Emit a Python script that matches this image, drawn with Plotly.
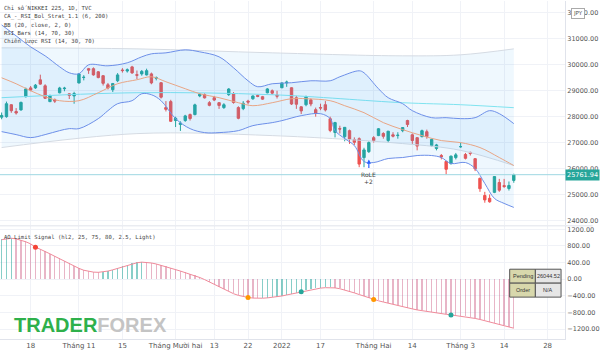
import plotly.graph_objects as go

# ---------------- data ----------------
dates = [
    "2021-10-08", "2021-10-11", "2021-10-12", "2021-10-13", "2021-10-14", "2021-10-15",
    "2021-10-18", "2021-10-19", "2021-10-20", "2021-10-21", "2021-10-22", "2021-10-25",
    "2021-10-26", "2021-10-27", "2021-10-28", "2021-10-29",
    "2021-11-01", "2021-11-02", "2021-11-04", "2021-11-05", "2021-11-08", "2021-11-09",
    "2021-11-10", "2021-11-11", "2021-11-12", "2021-11-15", "2021-11-16", "2021-11-17",
    "2021-11-18", "2021-11-19", "2021-11-22", "2021-11-24", "2021-11-25", "2021-11-26",
    "2021-11-29", "2021-11-30",
    "2021-12-01", "2021-12-02", "2021-12-03", "2021-12-06", "2021-12-07", "2021-12-08",
    "2021-12-09", "2021-12-10", "2021-12-13", "2021-12-14", "2021-12-15", "2021-12-16",
    "2021-12-17", "2021-12-20", "2021-12-21", "2021-12-22", "2021-12-23", "2021-12-24",
    "2021-12-27", "2021-12-28", "2021-12-29", "2021-12-30",
    "2022-01-04", "2022-01-05", "2022-01-06", "2022-01-07", "2022-01-11", "2022-01-12",
    "2022-01-13", "2022-01-14", "2022-01-17", "2022-01-18", "2022-01-19", "2022-01-20",
    "2022-01-21", "2022-01-24", "2022-01-25", "2022-01-26", "2022-01-27", "2022-01-28",
    "2022-01-31",
    "2022-02-01", "2022-02-02", "2022-02-03", "2022-02-04", "2022-02-07", "2022-02-08",
    "2022-02-09", "2022-02-10", "2022-02-14", "2022-02-15", "2022-02-16", "2022-02-17",
    "2022-02-18", "2022-02-21", "2022-02-22", "2022-02-24", "2022-02-25", "2022-02-28",
    "2022-03-01", "2022-03-02", "2022-03-03", "2022-03-04", "2022-03-07", "2022-03-08",
    "2022-03-09", "2022-03-10", "2022-03-11", "2022-03-14", "2022-03-15", "2022-03-16",
]
future_dates = ["2022-03-17", "2022-03-18", "2022-03-22", "2022-03-23", "2022-03-24",
                "2022-03-25", "2022-03-28"]

opens = [27980, 28000, 28460, 28200, 28260, 28770, 29110, 29110, 29420, 29190, 28580, 28650,
         28920, 29080, 28880, 28800,
         29300, 29510, 29850, 29850, 29730, 29580, 29230, 29040, 29385, 29800, 29760, 29920,
         29620, 29650, 29610, 29650, 29480, 29310, 28350, 28580,
         27850, 27700, 27850, 28080, 28080, 28800, 28850, 28540, 28730, 28540, 28350, 28850,
         28880, 28350, 28310, 28600, 28690, 28820, 28770, 28920, 29000, 28830,
         29115, 29300, 29115, 28730, 28380, 28460, 28650, 28270, 28350, 28460, 27920, 27390,
         27540, 27230, 27460, 27115, 27150, 26420, 26650,
         27190, 27270, 27350, 27080, 27300, 27270, 27460, 27850, 27300, 27190, 27230, 27420,
         26880, 26770, 26500, 26270, 26190, 26420,
         26840, 26540, 26620, 26380, 25620, 24960, 24850, 25080, 25460, 25340, 25230, 25540]
highs = [28160, 28580, 28480, 28330, 28580, 29120, 29180, 29260, 29620, 29250, 28850, 28700,
         29150, 29150, 28900, 28960,
         29680, 29600, 29880, 29900, 29760, 29600, 29300, 29300, 29680, 29870, 29860, 29960,
         29780, 29800, 29850, 29700, 29550, 29330, 28600, 28650,
         28000, 27820, 28070, 28120, 28500, 28900, 28900, 28600, 28800, 28560, 28520, 29100,
         28950, 28400, 28600, 28650, 28820, 28850, 28800, 29100, 29050, 29000,
         29320, 29390, 29130, 28800, 28400, 28810, 28700, 28350, 28500, 28600, 28000, 27800,
         27650, 27600, 27500, 27200, 27200, 26800, 27050,
         27250, 27560, 27400, 27450, 27400, 27400, 27600, 27880, 27350, 27200, 27500, 27500,
         27150, 26950, 26560, 26300, 26500, 26600,
         27000, 26600, 26650, 26400, 25650, 25100, 25000, 25700, 25600, 25600, 25500, 25800]
lows = [27900, 27960, 28150, 28080, 28230, 28740, 28980, 29070, 29230, 28680, 28560, 28530,
        28900, 28980, 28680, 28500,
        29280, 29400, 29650, 29580, 29480, 29200, 29050, 28950, 29330, 29700, 29700, 29650,
        29450, 29580, 29590, 29250, 29400, 28700, 28200, 27800,
        27600, 27450, 27800, 27850, 28050, 28750, 28700, 28400, 28600, 28300, 28300, 28800,
        28500, 27900, 28250, 28480, 28650, 28750, 28650, 28900, 28850, 28700,
        29100, 29150, 28450, 28300, 28100, 28400, 28400, 28000, 28250, 28200, 27400, 27200,
        27350, 27050, 26950, 26900, 26050, 26050, 26600,
        27000, 27250, 27150, 27000, 27200, 27150, 27400, 27600, 26950, 26700, 27200, 27150,
        26850, 26700, 26350, 25770, 26150, 26350,
        26800, 26350, 26500, 25900, 25100, 24680, 24680, 25050, 25100, 25250, 25150, 25450]
closes = [28048, 28498, 28230, 28140, 28550, 29068, 29025, 29215, 29255, 28708, 28804, 28600,
          29106, 29098, 28820, 28892,
          29647, 29520, 29794, 29611, 29507, 29285, 29106, 29277, 29610, 29777, 29808, 29688,
          29598, 29745, 29774, 29302, 29499, 28751, 28283, 27821,
          27935, 27753, 28029, 27927, 28455, 28860, 28725, 28437, 28640, 28432, 28459, 29066,
          28545, 27937, 28517, 28562, 28798, 28782, 28676, 29069, 28906, 28791,
          29301, 29332, 28487, 28478, 28222, 28765, 28489, 28124, 28333, 28257, 27467, 27772,
          27522, 27588, 27131, 27011, 26170, 26717, 27001,
          27078, 27533, 27241, 27439, 27248, 27284, 27579, 27696, 27079, 26865, 27460, 27232,
          27122, 26910, 26449, 25970, 26476, 26526,
          26844, 26393, 26577, 25985, 25221, 24790, 24717, 25690, 25163, 25307, 25346, 25762]
last_price = 25761.94

# Bollinger Bands (20, 2): (bar position, price)
bb_upper_pos = [-6, -3, 0, 3, 6, 8, 10, 12, 16, 20, 23, 25, 28, 32, 35, 39, 42, 45, 47, 50, 54,
                58, 62, 64, 68, 69, 72, 74, 77, 79, 83, 86, 89, 92, 95, 97, 100]
bb_upper = [31538, 31115, 30692, 30346, 29923, 29692, 29654, 30000, 29961, 30077, 30308, 30423,
            30461, 30577, 30500, 30308, 29884, 29384, 29154, 29269, 29308, 29384, 29384, 29538,
            29769, 29692, 29077, 28731, 28500, 28231, 27961, 27961, 27923, 27961, 28231, 28115,
            27731]
bb_lower_pos = [-6, -3, 0, 3, 6, 8, 10, 14, 16, 18, 21, 23, 25, 27, 30, 33, 36, 39, 43, 46, 50,
                52, 56, 60, 62, 63, 65, 67, 69, 71, 74, 77, 80, 83, 85, 87, 90, 92, 94, 96, 98,
                100]
bb_lower = [27423, 27308, 27192, 27308, 27461, 27538, 27538, 27923, 28231, 28500, 28615, 28884,
            28846, 28615, 27923, 27538, 27385, 27385, 27461, 27654, 27769, 27846, 28038, 28115,
            27923, 27461, 27154, 26885, 26269, 26231, 26385, 26423, 26500, 26500, 26423, 26192,
            26231, 26000, 25423, 24846, 24654, 24500]
bb_basis_pos = [-6, -3, 0, 3, 6, 10, 14, 18, 22, 25, 28, 32, 35, 39, 43, 46, 50, 54, 57, 62, 65,
                69, 73, 77, 81, 85, 89, 93, 97, 100]
bb_basis = [29500, 29269, 29000, 28769, 28615, 28615, 28923, 29269, 29423, 29538, 29346, 29077,
            28885, 28731, 28538, 28423, 28538, 28692, 28692, 28615, 28423, 28154, 27769, 27500,
            27269, 27077, 27000, 26808, 26423, 26115]

# Long band (CA_-_RSI_Bol_Strat, 200)
long_pos = [-6, 22, 50, 77, 89, 100]
long_mid = [28731, 28923, 28846, 28538, 28460, 28346]
long_upper = [30654, 30615, 30461, 30346, 30385, 30615]
long_lower = [26808, 27346, 27269, 26962, 26700, 26115]

# AO Limit Signal oscillator, one value per bar
ao_values = [950, 975, 985, 970, 940, 900, 850, 770, 720, 670, 610, 550, 490, 430, 370, 310,
             260, 215, 185, 170, 165, 175, 195, 225, 260, 300, 340, 370, 395, 410, 405, 390,
             365, 335, 300, 265, 230, 195, 160, 125, 85, 40, -10, -70, -130, -190, -250, -300,
             -350, -390, -420, -440, -455, -460, -458, -450, -440, -425, -405, -380, -355, -330,
             -300, -275, -250, -230, -215, -205, -200, -210, -230, -260, -290, -330, -370, -410,
             -450, -490, -520, -550, -580, -610, -640, -665, -690, -715, -740, -760, -780, -800,
             -815, -830, -845, -860, -875, -890, -905, -925, -945, -970, -1000, -1030, -1060,
             -1090, -1120, -1150, -1180]
ao_signal_dates = ["2021-10-19", "2021-12-22", "2022-01-11", "2022-02-01", "2022-02-25"]
ao_signal_colors = ["#f44336", "#ff9800", "#26a69a", "#ff9800", "#26a69a"]

entry_date = "2022-01-31"
entry_label = "RoLE"
entry_qty = "+2"

tick_dates = ["2021-10-18", "2021-11-01", "2021-11-15", "2021-12-01", "2021-12-13",
              "2021-12-22", "2022-01-04", "2022-01-17", "2022-02-01", "2022-02-14",
              "2022-03-01", "2022-03-14", "2022-03-28"]
tick_labels = ["18", "Tháng 11", "15", "Tháng Mười hai", "13", "22", "2022", "17",
               "Tháng Hai", "14", "Tháng 3", "14", "28"]

legend_lines = ["Chỉ số NIKKEI 225, 1D, TVC", "CA_-_RSI_Bol_Strat_1.1 (6, 200)",
                "BB (20, close, 2, 0)", "RSI Bars (14, 70, 30)", "Chiến lược RSI (14, 30, 70)"]
ao_title = "AO Limit Signal (hl2, 25, 75, 80, 2.5, Light)"
table_rows = [("Pending", "26044.52"), ("Order", "N/A")]

# ---------------- figure ----------------
W, H = 600, 354
ML, MR, MT, MB = 0, 28, 0, 15
PW, PH = W - ML - MR, H - MT - MB

def px_x(px):
    return (px - ML) / PW

def px_y(py):
    return (PH - (py - MT)) / PH

all_dates = dates + future_dates
offset = all_dates.index("2021-10-18")
pos = {d: i - offset for i, d in enumerate(all_dates)}
bar_pos = [pos[d] for d in dates]

fig = go.Figure()

def line_trace(xs, ys, color, fill=None, fillcolor=None):
    return go.Scatter(x=xs, y=ys, mode="lines", line=dict(color=color, width=1, shape="spline"),
                      fill=fill, fillcolor=fillcolor, xaxis="x2", yaxis="y", hoverinfo="skip")

# long band
fig.add_trace(line_trace(long_pos, long_upper, "#d5dbe3"))
fig.add_trace(line_trace(long_pos, long_lower, "#d5dbe3", "tonexty", "rgba(33,150,243,0.07)"))
fig.add_trace(line_trace(long_pos, long_mid, "#7fe3ef"))
# Bollinger bands
fig.add_trace(line_trace(bb_upper_pos, bb_upper, "#6d8fe8"))
fig.add_trace(line_trace(bb_lower_pos, bb_lower, "#6d8fe8", "tonexty", "rgba(33,150,243,0.08)"))
fig.add_trace(line_trace(bb_basis_pos, bb_basis, "#e8a585"))

# candles
fig.add_trace(go.Candlestick(x=bar_pos, open=opens, high=highs, low=lows, close=closes,
                             increasing=dict(line=dict(color="#26a69a", width=1), fillcolor="#26a69a"),
                             decreasing=dict(line=dict(color="#ef5350", width=1), fillcolor="#ef5350"),
                             whiskerwidth=0, xaxis="x2", yaxis="y"))

# oscillator
ao_colors = []
for i, v in enumerate(ao_values):
    prev = ao_values[i - 1] if i > 0 else v - 1
    ao_colors.append("rgba(38,166,154,0.55)" if v >= prev else "rgba(205,90,130,0.45)")
fig.add_trace(go.Bar(x=bar_pos, y=ao_values, width=0.28, marker=dict(color=ao_colors, line=dict(width=0)),
                     xaxis="x", yaxis="y2", hoverinfo="skip"))
fig.add_trace(go.Scatter(x=bar_pos, y=ao_values, mode="lines", line=dict(color="#f08a9a", width=1),
                         xaxis="x", yaxis="y2", hoverinfo="skip"))
sig_x = [pos[d] for d in ao_signal_dates]
sig_y = [ao_values[dates.index(d)] for d in ao_signal_dates]
fig.add_trace(go.Scatter(x=sig_x, y=sig_y, mode="markers",
                         marker=dict(color=ao_signal_colors, size=5), xaxis="x", yaxis="y2",
                         hoverinfo="skip"))

tickvals = [pos[d] for d in tick_dates]
grid = "#f0f2f7"
fig.update_layout(
    width=W, height=H, margin=dict(l=ML, r=MR, t=MT, b=MB),
    paper_bgcolor="white", plot_bgcolor="white", showlegend=False, bargap=0,
    font=dict(family="DejaVu Sans", color="#555"),
    xaxis=dict(domain=[0, 1], anchor="y2", range=[-6.34, 110.6], tickvals=tickvals,
               ticktext=tick_labels, tickfont=dict(size=7, color="#555"), showgrid=True,
               gridcolor=grid, zeroline=False, showline=True, linecolor="#e0e3eb", ticks="",
               rangeslider=dict(visible=False)),
    xaxis2=dict(domain=[0, 1], anchor="y", matches="x", tickvals=tickvals, showticklabels=False,
                showgrid=True, gridcolor=grid, zeroline=False, ticks="",
                rangeslider=dict(visible=False)),
    yaxis=dict(domain=[px_y(225), 1], side="right", range=[23808, 32461], dtick=1000, tick0=0,
               tickformat=".2f", tickfont=dict(size=6.5, color="#555"), showgrid=True,
               gridcolor=grid, zeroline=False, showline=True, linecolor="#e0e3eb", ticks=""),
    yaxis2=dict(domain=[0, px_y(226)], side="right", range=[-1440, 1272], dtick=400, tick0=0,
                tickformat=".2f", tickfont=dict(size=6.5, color="#555"), showgrid=True,
                gridcolor=grid, zeroline=False, showline=True, linecolor="#e0e3eb", ticks=""),
)

shapes = [
    dict(type="line", xref="paper", yref="y", x0=0, x1=1, y0=last_price, y1=last_price,
         line=dict(color="#9fd7e3", width=1)),
    dict(type="line", xref="paper", yref="paper", x0=0, x1=px_x(600), y0=px_y(225.5),
         y1=px_y(225.5), line=dict(color="#e0e3eb", width=1)),
]
annotations = []
for k, t in enumerate(legend_lines):
    annotations.append(dict(xref="paper", yref="paper", x=px_x(2), y=px_y(7 + 8.5 * k), text=t,
                            showarrow=False, xanchor="left", yanchor="middle",
                            font=dict(family="DejaVu Sans Mono", size=5.6, color="#444")))
annotations.append(dict(xref="paper", yref="paper", x=px_x(2), y=px_y(237), text=ao_title,
                        showarrow=False, xanchor="left", yanchor="middle",
                        font=dict(family="DejaVu Sans Mono", size=5.6, color="#444")))
# price tag and currency
annotations.append(dict(xref="paper", yref="y", x=1, y=last_price, text=f"{last_price:.2f}",
                        showarrow=False, xanchor="left", yanchor="middle", bgcolor="#26a69a",
                        borderpad=1, font=dict(size=6.5, color="white")))
annotations.append(dict(xref="paper", yref="paper", x=px_x(585), y=px_y(13), text="JPY",
                        showarrow=False, xanchor="center", yanchor="middle", bgcolor="white",
                        bordercolor="#aaa", borderwidth=1, borderpad=1,
                        font=dict(size=5.5, color="#555")))
# strategy entry mark
ex = pos[entry_date]
annotations.append(dict(xref="x2", yref="y", x=ex, y=26346, text="", showarrow=True, ax=0, ay=10,
                        arrowhead=2, arrowsize=0.7, arrowwidth=1.2, arrowcolor="#2962ff"))
annotations.append(dict(xref="x2", yref="y", x=ex, y=25769, text=entry_label, showarrow=False,
                        font=dict(size=6, color="#444"), yanchor="middle"))
annotations.append(dict(xref="x2", yref="y", x=ex, y=25500, text=entry_qty, showarrow=False,
                        font=dict(size=6, color="#444"), yanchor="middle"))
# table
cx = [516, 542, 568]
ry = [269, 283, 297]
for r, (lab, val) in enumerate(table_rows):
    shapes.append(dict(type="rect", xref="paper", yref="paper", x0=px_x(cx[0]), x1=px_x(cx[1]),
                       y0=px_y(ry[r + 1]), y1=px_y(ry[r]), fillcolor="#d8d8ac",
                       line=dict(color="#555", width=1)))
    shapes.append(dict(type="rect", xref="paper", yref="paper", x0=px_x(cx[1]), x1=px_x(cx[2]),
                       y0=px_y(ry[r + 1]), y1=px_y(ry[r]), fillcolor="#e6e6e6",
                       line=dict(color="#555", width=1)))
    for c, t in enumerate((lab, val)):
        annotations.append(dict(xref="paper", yref="paper", x=px_x((cx[c] + cx[c + 1]) / 2),
                                y=px_y((ry[r] + ry[r + 1]) / 2), text=t, showarrow=False,
                                font=dict(family="Liberation Sans", size=5.5, color="#333"),
                                xanchor="center", yanchor="middle"))
# watermark
annotations.append(dict(xref="paper", yref="paper", x=px_x(12), y=px_y(325),
                        text="<b><span style='color:#2eb04b'>TRADER</span>"
                             "<span style='color:#c4c4c4'>FOREX</span></b>",
                        showarrow=False, xanchor="left", yanchor="middle",
                        font=dict(family="Liberation Sans", size=20)))
fig.update_layout(shapes=shapes, annotations=annotations)

fig.write_html("out.html")
